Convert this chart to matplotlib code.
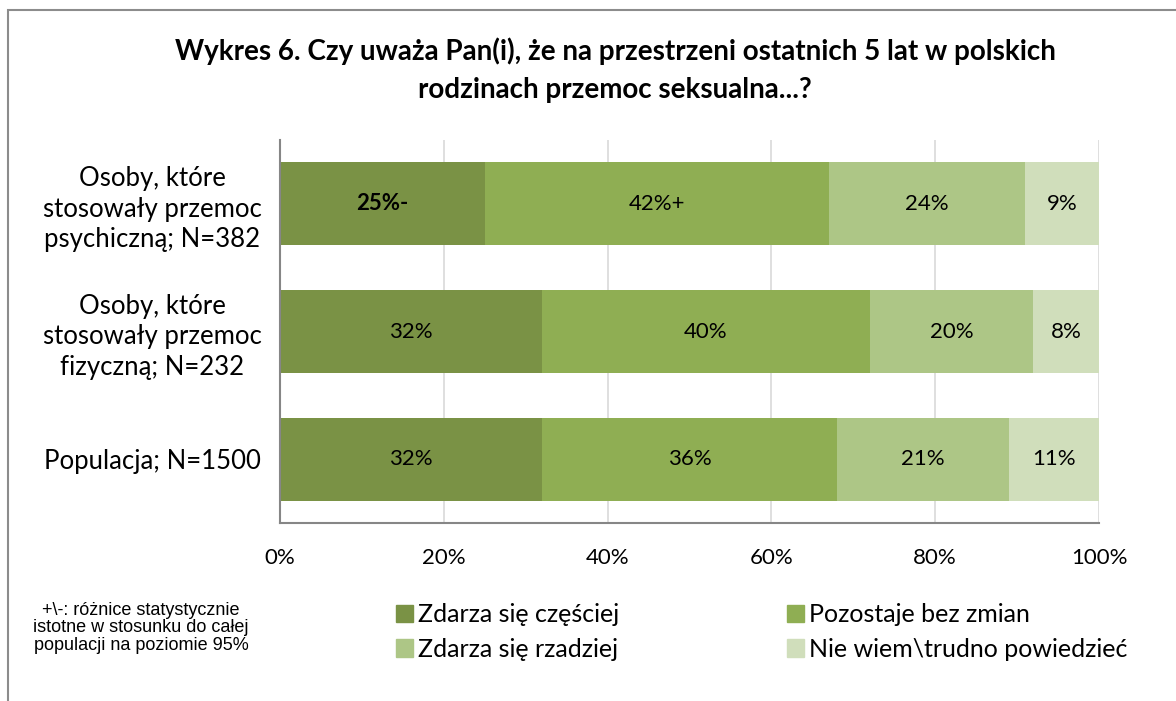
import matplotlib.pyplot as plt
from matplotlib.patches import Rectangle, Patch
import numpy as np

# dane
grupy = ['Osoby, które\nstosowały przemoc\npsychiczną; N=382',
         'Osoby, które\nstosowały przemoc\nfizyczną; N=232',
         'Populacja; N=1500']
serie = ['Zdarza się częściej', 'Pozostaje bez zmian',
         'Zdarza się rzadziej', 'Nie wiem\\trudno powiedzieć']
czesciej = [25, 32, 32]
bez_zmian = [42, 40, 36]
rzadziej = [24, 20, 21]
nie_wiem = [9, 8, 11]
etykiety = [['25%-', '42%+', '24%', '9%'],
            ['32%', '40%', '20%', '8%'],
            ['32%', '36%', '21%', '11%']]
pogrubione = [['bold', 'normal', 'normal', 'normal'],
              ['normal'] * 4,
              ['normal'] * 4]
kolory = ['#7a9245', '#8fae53', '#adc686', '#d0debb']

FONT = 'Lato'

fig = plt.figure(figsize=(11.76, 7.01), dpi=100)

# ramka wokół całego wykresu (widoczna tylko góra i lewa strona)
fig.add_artist(Rectangle((8 / 1176, -0.1), 1.2, 1.1 - 10 / 701,
                         transform=fig.transFigure, fill=False,
                         edgecolor='#8c8c8c', linewidth=1.5))

ax = fig.add_axes([280 / 1176, 1 - 523 / 701, 819 / 1176, 383 / 701])

y = np.arange(len(grupy))
wartosci = [czesciej, bez_zmian, rzadziej, nie_wiem]
lewo = np.zeros(len(grupy))
for i, (vals, kol, nazwa) in enumerate(zip(wartosci, kolory, serie)):
    ax.barh(y, vals, left=lewo, height=0.65, color=kol, label=nazwa, zorder=2)
    for j, v in enumerate(vals):
        ax.text(lewo[j] + v / 2, y[j], etykiety[j][i], ha='center', va='center',
                fontsize=16, fontweight=pogrubione[j][i], family=FONT, zorder=3)
    lewo += np.array(vals)

ax.set_xlim(0, 100)
ax.set_ylim(len(grupy) - 0.5, -0.5)
ax.set_xticks(np.arange(0, 101, 20))
ax.set_xticklabels([f'{t}%' for t in range(0, 101, 20)], fontsize=16, family=FONT)
ax.set_yticks(y)
ax.set_yticklabels(grupy, fontsize=18.5, family=FONT, ha='center', linespacing=1.28)
ax.tick_params(axis='y', length=0, pad=92)
ax.tick_params(axis='x', length=0, pad=18)
ax.grid(axis='x', color='#d9d9d9', linewidth=1.2, zorder=0)
for s in ['top', 'right']:
    ax.spines[s].set_visible(False)
for s in ['left', 'bottom']:
    ax.spines[s].set_color('#868686')
    ax.spines[s].set_linewidth(1.5)

fig.text(615 / 1176, 1 - 70 / 701,
         'Wykres 6. Czy uważa Pan(i), że na przestrzeni ostatnich 5 lat w polskich\nrodzinach przemoc seksualna...?',
         ha='center', va='center', fontsize=20, fontweight='bold', family=FONT,
         linespacing=1.55)

uchwyty = [Patch(color=k) for k in kolory]
kolejnosc = [0, 2, 1, 3]
fig.legend([uchwyty[k] for k in kolejnosc], [serie[k] for k in kolejnosc],
           ncol=2, loc='upper left', bbox_to_anchor=(384 / 1176, 1 - 591 / 701),
           frameon=False, prop={'family': FONT, 'size': 18}, borderpad=0,
           handlelength=0.68, handleheight=0.68, handletextpad=0.2,
           columnspacing=6.7, labelspacing=0.45)

fig.text(141 / 1176, 1 - 628 / 701,
         '+\\-: różnice statystycznie\nistotne w stosunku do całej\npopulacji na poziomie 95%',
         ha='center', va='center', fontsize=13, family='Liberation Sans',
         linespacing=1.05)

fig.savefig('out.png', dpi=100)
plt.close(fig)
